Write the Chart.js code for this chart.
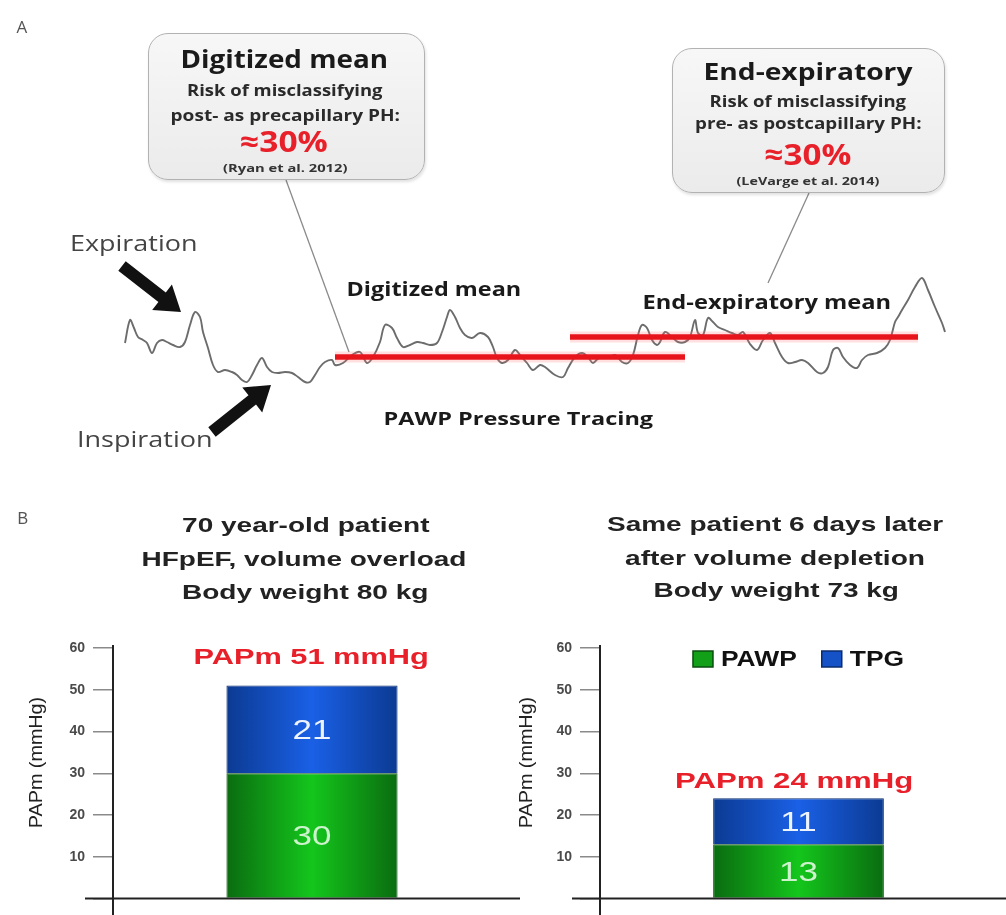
<!DOCTYPE html>
<html>
<head>
<meta charset="utf-8">
<script src="https://cdn.jsdelivr.net/npm/chart.js@4.4.1/dist/chart.umd.min.js"></script>
<style>
  html, body { margin: 0; padding: 0; background: #fff; }
  #page { position: relative; width: 1006px; height: 915px; overflow: hidden; }
  .wrap { position: absolute; }
  .t { position: absolute; white-space: nowrap; line-height: 1; z-index: 5; }
  .box { position: absolute; box-sizing: border-box; border: 1.5px solid #b2b2b2; border-radius: 20px;
         background: linear-gradient(#f7f7f7, #ebebeb); box-shadow: 1px 2px 3px rgba(0,0,0,0.12); z-index: 3; }
  svg { position: absolute; left: 0; top: 0; z-index: 2; }
</style>
</head>
<body>
<div id="page">
  <div class="wrap" style="left:0;top:0;width:1006px;height:470px;"><canvas id="traceChart"></canvas></div>
  <div class="wrap" style="left:23px;top:630px;width:497px;height:285px;"><canvas id="barLeft"></canvas></div>
  <div class="wrap" style="left:510px;top:630px;width:496px;height:285px;"><canvas id="barRight"></canvas></div>
  <svg id="deco" width="1006" height="915"></svg>
</div>
<script>
// ===============================
// Panel A : PAWP pressure tracing
// ===============================
// time in s, pressure in mmHg
const traceTime = [0.00, 0.05, 0.09, 0.13, 0.18, 0.22, 0.27, 0.32, 0.37, 0.42, 0.48, 0.55, 0.60, 0.65, 0.70, 0.75,
  0.78, 0.83, 0.88, 0.93, 1.00, 1.07, 1.12, 1.17, 1.22, 1.27, 1.32, 1.37, 1.42, 1.47, 1.53, 1.60, 1.67, 1.73,
  1.80, 1.85, 1.90, 1.95, 2.00, 2.07, 2.10, 2.18, 2.27, 2.35, 2.42, 2.48, 2.55, 2.60, 2.67, 2.72, 2.78, 2.85,
  2.92, 2.98, 3.05, 3.12, 3.17, 3.22, 3.25, 3.30, 3.35, 3.40, 3.47, 3.55, 3.63, 3.68, 3.72, 3.77, 3.83, 3.90,
  3.95, 4.02, 4.08, 4.15, 4.20, 4.30, 4.38, 4.43, 4.50, 4.57, 4.63, 4.68, 4.75, 4.82, 4.90, 4.97, 5.03, 5.08,
  5.13, 5.17, 5.22, 5.27, 5.32, 5.35, 5.40, 5.47, 5.53, 5.60, 5.65, 5.70, 5.73, 5.78, 5.83, 5.88, 5.93, 6.00,
  6.07, 6.13, 6.18, 6.25, 6.32, 6.38, 6.45, 6.50, 6.57, 6.63, 6.70, 6.77, 6.83, 6.92, 6.98, 7.03, 7.08, 7.13,
  7.18, 7.25, 7.32, 7.37, 7.43, 7.52, 7.60, 7.65, 7.70, 7.73, 7.77, 7.83, 7.90, 7.97, 8.03, 8.10, 8.17, 8.20];
const tracePressure = [16.75, 22.5, 20.5, 18.25, 17.5, 16.75, 14.25, 16.75, 17.5, 17, 16.25, 15.75, 17, 21.25, 24.5, 23.25,
  19.5, 15.5, 11.25, 9.5, 10, 9.5, 8.75, 7.5, 7, 8.75, 11.25, 13, 10.75, 9.5, 9.25, 9.5, 9.25, 8.25,
  7, 7, 8.75, 10.75, 12, 12.5, 11.25, 11.75, 13.75, 14.5, 11.75, 13.25, 17, 21.25, 20.5, 18, 15.75, 16.25,
  17, 16.75, 16.25, 16.75, 19.5, 23.25, 25, 23.25, 20.5, 18.75, 18, 19.25, 18.25, 15.75, 13, 11.75, 12.5, 15,
  13.75, 11.75, 10, 11.25, 10.75, 8.75, 8.25, 10.5, 13.25, 14.25, 13.25, 11.75, 13.25, 13, 13.75, 12, 11.75, 13.75,
  18.75, 21.25, 20.5, 17.5, 16.25, 17, 19.5, 18.25, 17, 17, 18.25, 22.5, 19.25, 18.75, 23, 22, 20.75, 20,
  19.25, 18.75, 19.5, 16.5, 15, 17.5, 19.25, 16.75, 13.25, 11.75, 12, 12.5, 11.75, 9.5, 9.25, 10.75, 15, 15.5,
  13.25, 11.25, 10.5, 12.5, 13.75, 14.25, 15.5, 17.5, 22, 23.25, 25, 27.5, 30.75, 33, 30, 25.75, 21.75, 19.5];

const digitizedMean = 13.25;
const digitizedSpan = [2.10, 5.60];
const endExpMean = 18.25;
const endExpSpan = [4.45, 7.93];

// ===============================
// Panel B : PAPm = PAWP + TPG
// ===============================
const seriesNames = ["PAWP", "TPG"];
const pawpValues = [30, 13];
const tpgValues = [21, 11];
const yMax = 60;
const yStep = 10;

const BAR_PCT = 0.43;
const RED = "#e8202a";

// ----- Tracé -----
const meanLine = (span, value, color, width) => ({
    data: span.map(t => ({ x: t, y: value })),
    borderColor: color, borderWidth: width, pointRadius: 0, borderCapStyle: "butt", clip: false
});

new Chart(document.getElementById("traceChart"), {
    type: "line",
    data: {
        datasets: [
            { label: "Digitized mean", ...meanLine(digitizedSpan, digitizedMean, "#e8141c", 5.5) },
            { label: "End-expiratory mean", ...meanLine(endExpSpan, endExpMean, "#e8141c", 5.5) },
            { label: "", ...meanLine(digitizedSpan, digitizedMean, "rgba(255,110,110,0.22)", 11) },
            { label: "", ...meanLine(endExpSpan, endExpMean, "rgba(255,110,110,0.22)", 11) },
            { label: "PAWP", data: traceTime.map((t, i) => ({ x: t, y: tracePressure[i] })),
              borderColor: "#6c6c6c", borderWidth: 1.9, pointRadius: 0, tension: 0.35, clip: false }
        ]
    },
    options: {
        responsive: true, maintainAspectRatio: false, animation: false, events: [],
        layout: { padding: { left: 125, right: 61, top: 250, bottom: 60 } },
        scales: {
            x: { type: "linear", min: 0, max: 8.2, display: false },
            y: { min: 0, max: 40, display: false }
        },
        plugins: { legend: { display: false }, tooltip: { enabled: false } }
    }
});

// ----- Barres -----
function barFill(dark, light) {
    return (c) => {
        const a = c.chart.chartArea;
        if (!a) return light;
        const mid = (a.left + a.right) / 2, half = (a.right - a.left) * BAR_PCT / 2;
        const g = c.chart.ctx.createLinearGradient(mid - half, 0, mid + half, 0);
        g.addColorStop(0, dark); g.addColorStop(0.5, light); g.addColorStop(1, dark);
        return g;
    };
}

const barDecor = {
    id: "barDecor",
    afterDraw(chart, args, opts) {
        const { ctx, chartArea: a, scales: { y } } = chart;
        ctx.save();
        // valeurs dans les segments
        chart.data.datasets.forEach((ds, di) => {
            chart.getDatasetMeta(di).data.forEach((bar, i) => {
                ctx.save();
                ctx.translate(bar.x, (bar.y + bar.base) / 2);
                ctx.scale(1.25, 1);
                ctx.font = '28px "Liberation Sans", Arial, sans-serif';
                ctx.fillStyle = ds.labelColor;
                ctx.textAlign = "center";
                ctx.textBaseline = "middle";
                ctx.fillText(ds.data[i], 0, 2);
                ctx.restore();
            });
        });
        // axes
        ctx.strokeStyle = "#222";
        ctx.lineWidth = 2;
        ctx.beginPath();
        ctx.moveTo(a.left, y.getPixelForValue(y.max) - 3);
        ctx.lineTo(a.left, chart.height);
        ctx.moveTo(a.left - 28, y.getPixelForValue(0));
        ctx.lineTo(a.right + 9, y.getPixelForValue(0));
        ctx.stroke();
        // légende
        if (opts.legend) {
            ctx.font = 'bold 22px "Liberation Sans", Arial, sans-serif';
            const st = 1.2;
            const items = chart.data.datasets.map(ds => ({ ds, w: ctx.measureText(ds.label).width * st }));
            const total = items.reduce((s, it) => s + 20 + 8 + it.w, 0) + 25 * (items.length - 1);
            let x = (a.left + a.right) / 2 - total / 2;
            const yc = a.top + 11;
            items.forEach(it => {
                ctx.fillStyle = it.ds.legendColor;
                ctx.strokeStyle = it.ds.borderColor;
                ctx.lineWidth = 1.5;
                ctx.fillRect(x, yc - 8, 20, 16);
                ctx.strokeRect(x, yc - 8, 20, 16);
                x += 28;
                ctx.save();
                ctx.translate(x, yc);
                ctx.scale(st, 1);
                ctx.fillStyle = "#111";
                ctx.textAlign = "left";
                ctx.textBaseline = "middle";
                ctx.fillText(it.ds.label, 0, 1);
                ctx.restore();
                x += it.w + 25;
            });
        }
        ctx.restore();
    }
};

function makeBarChart(id, i, showLegend) {
    return new Chart(document.getElementById(id), {
        type: "bar",
        data: {
            labels: [""],
            datasets: [
                { label: seriesNames[0], data: [pawpValues[i]], backgroundColor: barFill("#0a6c10", "#14c61c"),
                  borderColor: "#0a4e0e", borderWidth: 1, labelColor: "#cdf3cd", legendColor: "#12a018" },
                { label: seriesNames[1], data: [tpgValues[i]], backgroundColor: barFill("#0b3a92", "#1a60e6"),
                  borderColor: "#0a2c6e", borderWidth: 1, labelColor: "#eef4ff", legendColor: "#1552c8" }
            ]
        },
        options: {
            responsive: true, maintainAspectRatio: false, animation: false, events: [],
            layout: { padding: { top: 18, right: 9, bottom: 12, left: 0 } },
            datasets: { bar: { barPercentage: BAR_PCT, categoryPercentage: 1 } },
            scales: {
                x: { stacked: true, display: false },
                y: {
                    stacked: true, min: 0, max: yMax,
                    afterFit(s) { s.width = 90; },
                    border: { display: false },
                    grid: { drawOnChartArea: false, tickLength: 20, color: "#8a8a8a", lineWidth: 1.5 },
                    ticks: { stepSize: yStep, padding: 8, color: "#4a4a4a",
                             font: { size: 14, weight: "bold", family: '"Liberation Sans", Arial, sans-serif' },
                             callback: v => (v === 0 ? "" : v) }
                }
            },
            plugins: { legend: { display: false }, tooltip: { enabled: false }, barDecor: { legend: showLegend } }
        },
        plugins: [barDecor]
    });
}
makeBarChart("barLeft", 0, false);
makeBarChart("barRight", 1, true);

// ===============================
// Textes, bulles et flèches
// ===============================
const page = document.getElementById("page");
const OPEN = '"Open Sans", "DejaVu Sans", sans-serif';
const ARIAL = '"Liberation Sans", Arial, sans-serif';

function place(text, cx, cy, w, size, weight, color, family, rotate) {
    const el = document.createElement("div");
    el.className = "t";
    el.textContent = text;
    el.style.fontSize = size + "px";
    el.style.fontWeight = weight;
    el.style.color = color;
    el.style.fontFamily = family;
    page.appendChild(el);
    const ow = el.offsetWidth, oh = el.offsetHeight;
    const k = w ? w / ow : 1;
    el.style.left = (cx - ow / 2) + "px";
    el.style.top = (cy - oh / 2) + "px";
    el.style.transform = (rotate ? "rotate(-90deg) " : "") + "scaleX(" + k + ")";
}

function box(l, t, w, h) {
    const el = document.createElement("div");
    el.className = "box";
    Object.assign(el.style, { left: l + "px", top: t + "px", width: w + "px", height: h + "px" });
    page.appendChild(el);
}

box(148, 33, 277, 147);
box(672, 48, 273, 145);

// panneau A
place("A", 22, 26, 0, 17, 400, "#555", OPEN);
place("Digitized mean", 284, 58, 208, 25, 700, "#1a1a1a", OPEN);
place("Risk of misclassifying", 285, 90, 196, 16, 700, "#2a2a2a", OPEN);
place("post- as precapillary PH:", 285, 115, 230, 16, 700, "#2a2a2a", OPEN);
place("≈30%", 284, 140, 88, 29, 700, RED, OPEN);
place("(Ryan et al. 2012)", 285, 168, 125, 10, 700, "#333", OPEN);
place("End-expiratory", 808, 71, 209, 24, 700, "#1a1a1a", OPEN);
place("Risk of misclassifying", 808, 101, 197, 16, 700, "#2a2a2a", OPEN);
place("pre- as postcapillary PH:", 808, 123, 227, 16, 700, "#2a2a2a", OPEN);
place("≈30%", 808, 153, 87, 29, 700, RED, OPEN);
place("(LeVarge et al. 2014)", 808, 180, 143, 11, 700, "#333", OPEN);
place("Expiration", 133, 243, 127, 21, 400, "#444", OPEN);
place("Inspiration", 144, 439, 135, 21, 400, "#444", OPEN);
place("Digitized mean", 434, 289, 175, 19, 700, "#1a1a1a", OPEN);
place("End-expiratory mean", 767, 302, 249, 19, 700, "#1a1a1a", OPEN);
place("PAWP Pressure Tracing", 518, 418, 270, 18, 700, "#1a1a1a", OPEN);

// panneau B
place("B", 23, 519, 0, 16, 400, "#555", ARIAL);
place("70 year-old patient", 306, 524, 248, 21, 700, "#222", ARIAL);
place("HFpEF, volume overload", 304, 558, 325, 21, 700, "#222", ARIAL);
place("Body weight 80 kg", 305, 591, 246, 21, 700, "#222", ARIAL);
place("Same patient 6 days later", 775, 523, 336, 21, 700, "#222", ARIAL);
place("after volume depletion", 775, 557, 300, 21, 700, "#222", ARIAL);
place("Body weight 73 kg", 776, 589, 245, 21, 700, "#222", ARIAL);
place("PAPm " + (pawpValues[0] + tpgValues[0]) + " mmHg", 311, 657, 235, 22, 700, RED, ARIAL);
place("PAPm " + (pawpValues[1] + tpgValues[1]) + " mmHg", 794, 781, 238, 22, 700, RED, ARIAL);
place("PAPm (mmHg)", 35, 762, 131, 19, 400, "#222", ARIAL, true);
place("PAPm (mmHg)", 525, 762, 131, 19, 400, "#222", ARIAL, true);

// flèches et traits des bulles
function arrowPoints(x1, y1, x2, y2, shaft, headW, headL) {
    const dx = x2 - x1, dy = y2 - y1, L = Math.hypot(dx, dy);
    const ux = dx / L, uy = dy / L, px = -uy, py = ux;
    const bx = x2 - ux * headL, by = y2 - uy * headL;
    const pts = [
        [x1 + px * shaft / 2, y1 + py * shaft / 2], [bx + px * shaft / 2, by + py * shaft / 2],
        [bx + px * headW / 2, by + py * headW / 2], [x2, y2],
        [bx - px * headW / 2, by - py * headW / 2], [bx - px * shaft / 2, by - py * shaft / 2],
        [x1 - px * shaft / 2, y1 - py * shaft / 2]
    ];
    return pts.map(p => p[0].toFixed(1) + "," + p[1].toFixed(1)).join(" ");
}
document.getElementById("deco").innerHTML =
    '<line x1="286" y1="180" x2="349" y2="352" stroke="#8a8a8a" stroke-width="1.3"/>' +
    '<line x1="809" y1="193" x2="768" y2="283" stroke="#8a8a8a" stroke-width="1.3"/>' +
    '<polygon fill="#111" points="' + arrowPoints(122, 266, 181, 312, 12, 32, 24) + '"/>' +
    '<polygon fill="#111" points="' + arrowPoints(212, 432, 271, 385, 12, 32, 24) + '"/>';
</script>
</body>
</html>
